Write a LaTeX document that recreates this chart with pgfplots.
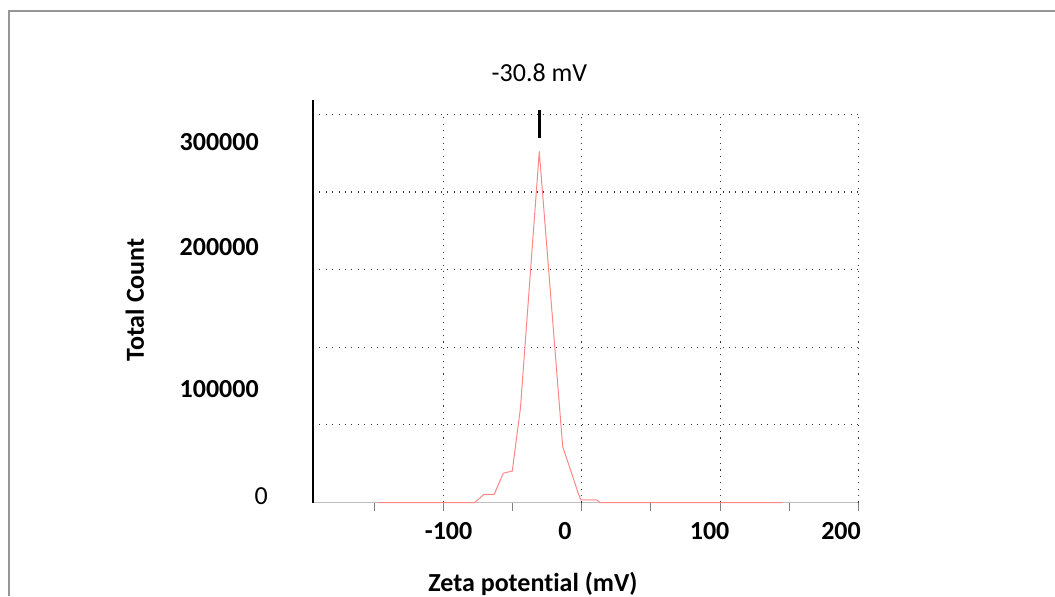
\documentclass[border=0pt]{standalone}
\usepackage{fontspec}
\setmainfont{Carlito}[Ligatures=NoCommon]
\usepackage{pgfplots}
\pgfplotsset{compat=1.18}

\definecolor{curve}{RGB}{255,135,135}
\definecolor{framegray}{RGB}{150,150,150}
\newcommand\fs{\fontsize{19.5}{23}\selectfont}

\begin{document}
\begin{tikzpicture}[x=0.75pt,y=0.75pt]
\useasboundingbox (0,0) rectangle (1055,596);
% outer frame (top and left edge only)
\draw[framegray, line width=1.5pt] (9,0) -- (9,585) -- (1055,585);
\begin{axis}[
  at={(234.75pt,70.125pt)}, anchor=south west,
  scale only axis, width=409.2pt, height=301.9pt,
  xmin=-194, xmax=200, ymin=0, ymax=337100,
  axis x line*=bottom, axis y line*=left,
  x axis line style={-, draw=gray!50, line width=1.2pt},
  y axis line style={-, draw=black, line width=1.2pt},
  xtick={-150,-100,...,200}, xticklabels={},
  x tick style={draw=gray, line width=0.6pt},
  major tick length=6pt, tick align=outside,
  ytick={65000,130000,195000,260000,325000}, yticklabels={},
  y tick style={draw=none},
  scaled y ticks=false, scaled x ticks=false,
  ymajorgrids,
  grid style={black!80, line width=0.8pt, dash pattern=on 0.8pt off 4pt},
  tick label style={font=\bfseries\fs},
  extra x ticks={-96.1,-12.1,92.4,187.3},
  extra x tick labels={-100,0,100,200},
  extra x tick style={major tick length=0pt, grid=none, tick style={draw=none},
    xticklabel style={anchor=center, yshift=-21.4pt}},
  extra y ticks={5440,95070,214260,302200},
  extra y tick labels={{\mdseries 0\kern-6.75pt},100000,200000,300000},
  extra y tick style={major tick length=0pt, grid=none, tick style={draw=none},
    yticklabel style={anchor=east, inner sep=0pt, xshift=-40.5pt}},
  xlabel={Zeta potential (mV)},
  xlabel style={at={(axis cs:-35.2,-68300)}, anchor=center, font=\bfseries\fs},
  ylabel={Total Count},
  ylabel style={at={(axis cs:-322.6,169600)}, anchor=center, font=\bfseries\fs},
  clip=false,
]
% vertical grid lines stop at the top horizontal one
\pgfplotsinvokeforeach{-100,0,100,200}{
  \draw[black!80, line width=0.8pt, dash pattern=on 0.8pt off 4pt]
    (axis cs:#1,0) -- (axis cs:#1,325000);
}
\addplot[curve, line width=0.75pt, line join=round] coordinates {
  (-147,0) (-77.1,0) (-70.6,6870) (-63.1,6870) (-56.6,24460) (-50.1,26380)
  (-44.2,79150) (-30.6,293830) (-13.7,46740) (-7.2,24460) (-2.5,7710)
  (-0.5,2100) (10.8,2100) (13.2,0) (145,0)
};
\addplot[black, line width=2.25pt] coordinates {(-30.8,305300) (-30.8,328750)};
\node[font=\fs, anchor=center] at (axis cs:-30.5,359700) {-30.8 mV};
\end{axis}
\end{tikzpicture}
\end{document}
